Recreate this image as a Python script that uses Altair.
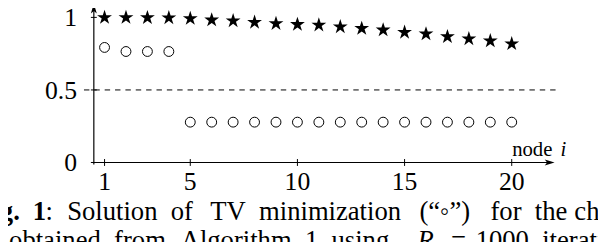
import math
import altair as alt
import pandas as pd

# ---------------- data ----------------
node = [1, 2, 3, 4, 5, 6, 7, 8, 9, 10, 11, 12, 13, 14, 15, 16, 17, 18, 19, 20]
star_values = [0.999, 0.999, 0.998, 0.997, 0.992, 0.982, 0.976, 0.966, 0.957, 0.951,
               0.947, 0.935, 0.924, 0.913, 0.897, 0.886, 0.867, 0.852, 0.838, 0.818]
circle_values = [0.793, 0.765, 0.765, 0.765, 0.278, 0.278, 0.278, 0.278, 0.278, 0.278,
                 0.278, 0.278, 0.278, 0.278, 0.278, 0.278, 0.278, 0.278, 0.278, 0.278]
x_ticks = [1, 5, 10, 15, 20]
x_tick_labels = ["1", "5", "10", "15", "20"]
y_ticks = [0, 0.5, 1]
y_tick_labels = ["0", "0.5", "1"]
dash_level = [0.5]

axis_label_x = ["node", "i"]
# caption pieces (text, plot-x, plot-y, weight, style, align)
caption = [
    ("Fig.", -75, 213, "bold", "normal", "right"),
    ("1", -62, 213, "bold", "normal", "left"),
    (":", -49, 213, "normal", "normal", "left"),
    ("Solution\u2002of", -27, 213, "normal", "normal", "left"),
    ("TV\u2002minimization", 118, 213, "normal", "normal", "left"),
    ("(\u201c\u25e6\u201d)", 330, 213, "normal", "normal", "left"),
    ("for\u2002the", 402, 213, "normal", "normal", "left"),
    ("chain\u2002graph", 487, 213, "normal", "normal", "left"),
    ("ed\u2002obtained\u2002from", 73, 243, "normal", "normal", "right"),
    ("Algorithm\u20021\u2002using", 88, 243, "normal", "normal", "left"),
    ("R", 328, 243, "normal", "italic", "left"),
    ("=", 362, 243, "normal", "normal", "left"),
    ("1000\u2002iterations", 387, 243, "normal", "normal", "left"),
]

# ---------------- styling ----------------
FONT = "Liberation Serif"
W, H = 467, 155
xs = alt.Scale(domain=[0.5, 22], nice=False, zero=False)
ys = alt.Scale(domain=[0, 1.054], nice=False, zero=False)

pts = []
for k in range(10):
    r = 1.0 if k % 2 == 0 else 0.382
    a = -math.pi / 2 + k * math.pi / 5
    pts.append(f"{r*math.cos(a):.3f},{r*math.sin(a):.3f}")
STAR = "M" + "L".join(pts) + "Z"
XARROW = "M0,0L-2,-0.6L-1.5,0L-2,0.6Z"
YARROW = "M0,0L-0.6,2L0,1.5L0.6,2Z"

df = pd.DataFrame({"node": node, "star": star_values, "circle": circle_values})

stars = alt.Chart(df).mark_point(
    shape=STAR, filled=True, color="black", size=250, opacity=1, strokeWidth=0
).encode(
    x=alt.X("node:Q", scale=xs, axis=None),
    y=alt.Y("star:Q", scale=ys, axis=None),
)

circles = alt.Chart(df).mark_point(
    shape="circle", filled=False, color="black", size=100, strokeWidth=1, opacity=1
).encode(
    x=alt.X("node:Q", scale=xs, axis=None),
    y=alt.Y("circle:Q", scale=ys, axis=None),
)

dashed = alt.Chart(pd.DataFrame({"y": dash_level})).mark_rule(
    strokeDash=[5.5, 5], color="black", strokeWidth=1
).encode(y=alt.Y("y:Q", scale=ys, axis=None), x=alt.value(-10), x2=alt.value(468))

xline = alt.Chart(pd.DataFrame({"y": [0]})).mark_rule(color="black", strokeWidth=1.2).encode(
    y=alt.Y("y:Q", scale=ys, axis=None), x=alt.value(-2), x2=alt.value(W - 4))

yline = alt.Chart(pd.DataFrame({"x": [0.5]})).mark_rule(color="black", strokeWidth=1.2).encode(
    x=alt.X("x:Q", scale=xs, axis=None), y=alt.value(H + 2), y2=alt.value(-3))

xtick = alt.Chart(pd.DataFrame({"t": x_ticks})).mark_rule(color="black", strokeWidth=1).encode(
    x=alt.X("t:Q", scale=xs, axis=None), y=alt.value(H - 3.5), y2=alt.value(H + 3.5))

ytick = alt.Chart(pd.DataFrame({"t": y_ticks})).mark_rule(color="black", strokeWidth=1).encode(
    y=alt.Y("t:Q", scale=ys, axis=None), x=alt.value(-3), x2=alt.value(3))

xlabels = alt.Chart(pd.DataFrame({"t": x_ticks, "s": x_tick_labels})).mark_text(
    font=FONT, fontSize=26, align="center", baseline="alphabetic", color="black"
).encode(x=alt.X("t:Q", scale=xs, axis=None), y=alt.value(183), text="s:N")

ylabels = alt.Chart(pd.DataFrame({"t": y_ticks, "s": y_tick_labels})).mark_text(
    font=FONT, fontSize=26, align="right", baseline="middle", dy=1, color="black"
).encode(y=alt.Y("t:Q", scale=ys, axis=None), x=alt.value(-17), text="s:N")

one = pd.DataFrame({"a": [0]})
xarrow = alt.Chart(one).mark_point(
    shape=XARROW, filled=True, color="black", size=100, opacity=1, strokeWidth=0
).encode(x=alt.value(W), y=alt.value(H))
yarrow = alt.Chart(one).mark_point(
    shape=YARROW, filled=True, color="black", size=100, opacity=1, strokeWidth=0
).encode(x=alt.value(0), y=alt.value(-6))


def label(text, x, y, size, weight="normal", style="normal", align="left"):
    return alt.Chart(one).mark_text(
        text=text, font=FONT, fontSize=size, fontWeight=weight, fontStyle=style,
        align=align, baseline="alphabetic", color="black"
    ).encode(x=alt.value(x), y=alt.value(y))


texts = [
    label(axis_label_x[0], 424, 148, 21),
    label(axis_label_x[1], 473, 148, 21, style="italic"),
]
for t, x, y, wgt, sty, al in caption:
    texts.append(label(t, x, y, 27, weight=wgt, style=sty, align=al))

chart = alt.layer(
    dashed, xline, yline, xtick, ytick, xarrow, yarrow, xlabels, ylabels,
    circles, stars, *texts
).properties(
    width=W, height=H,
    padding={"left": 87, "top": 0, "right": 44, "bottom": 79},
    autosize=alt.AutoSizeParams(type="none"),
).configure_view(stroke=None)

chart.save("out.html", embed_options={"renderer": "svg", "actions": False})
